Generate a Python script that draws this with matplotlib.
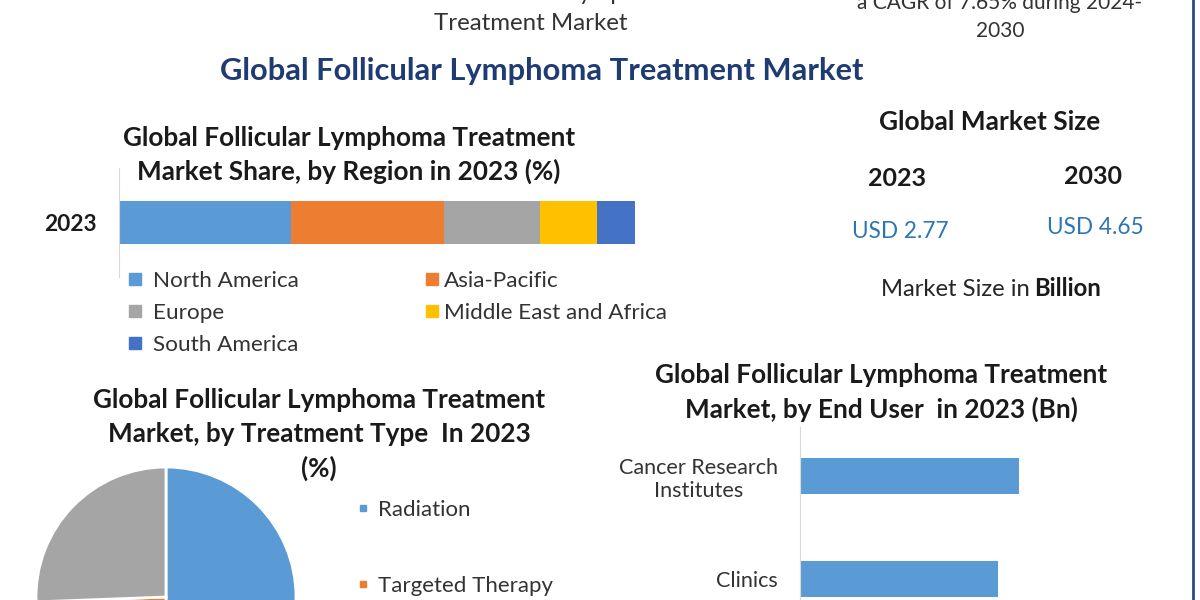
import matplotlib
matplotlib.use('Agg')
import matplotlib.pyplot as plt
from matplotlib.lines import Line2D

plt.rcParams['font.family'] = ['Lato', 'DejaVu Sans']

# data
regions = ['North America', 'Asia-Pacific', 'Europe', 'Middle East and Africa', 'South America']
region_share = [33.4, 29.5, 18.6, 11.2, 7.3]
region_colors = ['#5B9BD5', '#ED7D31', '#A5A5A5', '#FFC000', '#4472C4']

size_years = ['2023', '2030']
size_values = ['USD 2.77', 'USD 4.65']

treatment_types = ['Radiation', 'Targeted Therapy', 'Chemotherapy']
treatment_share = [50.0, 24.4, 25.6]
treatment_colors = ['#5B9BD5', '#ED7D31', '#A5A5A5']

end_users = ['Cancer Research\nInstitutes', 'Clinics']
end_user_bn = [0.92, 0.83]

W, H = 1200, 600


def box(l, t, r, b):
    return [l / W, 1 - b / H, (r - l) / W, (b - t) / H]


def ftext(x, y, s, **kw):
    kw.setdefault('ha', 'center')
    kw.setdefault('va', 'center')
    fig.text(x / W, 1 - y / H, s, **kw)


fig = plt.figure(figsize=(12, 6), dpi=100)
fig.patch.set_facecolor('white')

# cropped header texts
ftext(538, -7, 'Global Follicular Lymphoma', fontsize=17, color='#333333')
ftext(531, 24, 'Treatment Market', fontsize=17.3, color='#333333')
ftext(1000, 3, 'a CAGR of 7.65% during 2024-', fontsize=15, color='#333333')
ftext(1000, 31, '2030', fontsize=15, color='#333333')

ftext(542, 71, 'Global Follicular Lymphoma Treatment Market', fontsize=22.2,
      fontweight='bold', color='#1F3B73')

# stacked bar by region
sub = dict(fontsize=18.8, fontweight='bold', color='#1a1a1a')
ftext(349, 138, 'Global Follicular Lymphoma Treatment', **sub)
ftext(349, 171, 'Market Share, by Region in 2023 (%)', **sub)

ax1 = fig.add_axes(box(119, 168, 635, 277))
left = 0
for name, val, col in zip(regions, region_share, region_colors):
    ax1.barh(0, val, left=left, height=0.40, color=col)
    left += val
ax1.set_xlim(0, 100)
ax1.set_ylim(-0.5, 0.5)
ax1.set_xticks([])
ax1.set_yticks([0])
ax1.set_yticklabels(['2023'], fontsize=16.3, fontweight='bold', color='#1a1a1a')
ax1.tick_params(axis='y', length=0, pad=16)
for s in ['top', 'right', 'bottom']:
    ax1.spines[s].set_visible(False)
ax1.spines['left'].set_color('#D9D9D9')

h = [Line2D([], [], marker='s', ls='', markersize=9, color=c) for c in region_colors]
leg = dict(loc='upper left', frameon=False, fontsize=16.2, handlelength=0.7,
           labelspacing=0.54, borderpad=0, borderaxespad=0, labelcolor='#333333')
fig.legend([h[0], h[2], h[4]], [regions[0], regions[2], regions[4]],
           bbox_to_anchor=(127 / W, 1 - 271 / H), handletextpad=0.45, **leg)
fig.legend([h[1], h[3]], [regions[1], regions[3]],
           bbox_to_anchor=(424 / W, 1 - 271 / H), handletextpad=0.2, **leg)

# market size panel
ftext(990, 122, 'Global Market Size', fontsize=18.9, fontweight='bold', color='#1a1a1a')
for x, y, yr in zip([897, 1093], [179, 177], size_years):
    ftext(x, y, yr, fontsize=18, fontweight='bold', color='#1a1a1a')
for x, y, v in zip([900, 1095], [231, 227], size_values):
    ftext(x, y, v, fontsize=16.3, color='#2E75B6')
ftext(1030, 289, 'Market Size in', ha='right', fontsize=17.2, color='#262626')
ftext(1034, 289, 'Billion', ha='left', fontsize=17.2, fontweight='bold', color='#1a1a1a')

fig.add_artist(Line2D([1193 / W, 1193 / W], [0, 1], color='#2F4A7A', lw=2))

# pie by treatment type
ftext(319, 400, 'Global Follicular Lymphoma Treatment', **sub)
ftext(319, 434, 'Market, by Treatment Type  In 2023', **sub)
ftext(319, 468, '(%)', **sub)

ax2 = fig.add_axes(box(36, 467, 296, 727))
ax2.pie(treatment_share, colors=treatment_colors, startangle=90, counterclock=False,
        wedgeprops=dict(edgecolor='white', linewidth=2))
ax2.set_xlim(-1, 1)
ax2.set_ylim(-1, 1)
ax2.set_aspect('equal')
ax2.axis('off')

ph = [Line2D([], [], marker='s', ls='', markersize=5, color=c) for c in treatment_colors]
fig.legend(ph, treatment_types, loc='upper left', bbox_to_anchor=(357 / W, 1 - 500 / H),
           frameon=False, fontsize=16, handlelength=0.5, handletextpad=0.45,
           labelspacing=2.5, borderpad=0, borderaxespad=0, labelcolor='#333333')

# bar by end user
ftext(881, 375, 'Global Follicular Lymphoma Treatment', **sub)
ftext(881, 409, 'Market, by End User  in 2023 (Bn)', **sub)

ax3 = fig.add_axes(box(800, 427, 1150, 600))
ax3.barh(range(len(end_users)), end_user_bn, height=0.35, color='#5B9BD5')
ax3.set_xlim(0, 1.47)
ax3.set_ylim(1.204, -0.476)
ax3.set_xticks([])
ax3.set_yticks(range(len(end_users)))
ax3.set_yticklabels(end_users, fontsize=15.6, color='#333333', multialignment='center')
ax3.tick_params(axis='y', length=0, pad=16)
for s in ['top', 'right', 'bottom']:
    ax3.spines[s].set_visible(False)
ax3.spines['left'].set_color('#D9D9D9')

plt.savefig('out.png', dpi=100)
